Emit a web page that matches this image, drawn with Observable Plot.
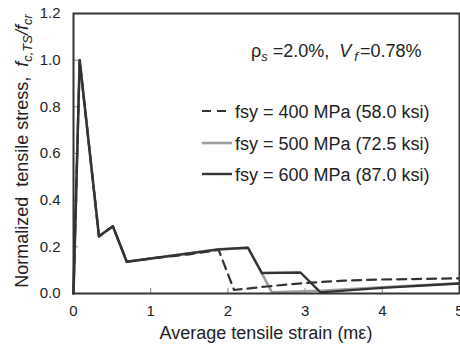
<!DOCTYPE html>
<html><head><meta charset="utf-8">
<script src="https://cdn.jsdelivr.net/npm/d3@7"></script>
<script src="https://cdn.jsdelivr.net/npm/@observablehq/plot@0.6"></script>
<style>body{margin:0;background:#fff}</style>
</head><body><div id="chart"></div>
<script>
const xTicks = [0, 1, 2, 3, 4, 5];
const yTicks = [0, 0.2, 0.4, 0.6, 0.8, 1.0, 1.2];

const strain400 = [0, 0.08, 0.33, 0.51, 0.69, 1.0, 1.5, 1.88, 2.08, 2.5, 3.0, 3.5, 4.0, 5.0];
const stress400 = [0, 1.0, 0.245, 0.288, 0.136, 0.15, 0.168, 0.187, 0.015, 0.03, 0.045, 0.055, 0.06, 0.065];

const strain500 = [0, 0.08, 0.33, 0.51, 0.69, 1.88, 2.26, 2.44, 2.57, 3.2, 4.0, 5.0];
const stress500 = [0, 1.0, 0.245, 0.288, 0.136, 0.189, 0.196, 0.086, 0.005, 0.012, 0.027, 0.044];

const strain600 = [0, 0.08, 0.33, 0.51, 0.69, 1.88, 2.26, 2.44, 2.94, 3.2, 4.0, 5.0];
const stress600 = [0, 1.0, 0.245, 0.288, 0.136, 0.189, 0.196, 0.088, 0.09, 0.005, 0.024, 0.043];

const legendLabels = ["fsy = 400 MPa (58.0 ksi)", "fsy = 500 MPa (72.5 ksi)", "fsy = 600 MPa (87.0 ksi)"];

const toRows = (xs, ys) => xs.map((x, i) => ({x, y: ys[i]}));
const d400 = toRows(strain400, stress400);
const d500 = toRows(strain500, stress500);
const d600 = toRows(strain600, stress600);

const font = "Liberation Sans, Arial, sans-serif";
const ink = "#222";

const svg = Plot.plot({
  width: 460, height: 345,
  marginLeft: 73, marginRight: 1, marginTop: 13, marginBottom: 52,
  style: {fontFamily: font, fontSize: "15px", color: ink, background: "#fff", overflow: "visible"},
  x: {domain: [0, 5]},
  y: {domain: [0, 1.2]},
  marks: [
    Plot.axisX({ticks: xTicks, tickSize: 0, tickPadding: 12, fontSize: 15, label: null, tickFormat: d => d3.format("d")(d)}),
    Plot.axisY({ticks: yTicks, tickSize: 0, tickPadding: 13, fontSize: 15, label: null, tickFormat: d => d.toFixed(1)}),
    Plot.axisX({ticks: xTicks, tickSize: -5, tickFormat: () => "", label: null, stroke: "#888"}),
    Plot.axisY({ticks: yTicks, tickSize: -5, tickFormat: () => "", label: null, stroke: "#888"}),
    Plot.line(d500, {x: "x", y: "y", stroke: "#9e9e9e", strokeWidth: 2.6}),
    Plot.line(d400, {x: "x", y: "y", stroke: "#333", strokeWidth: 2.2, strokeDasharray: "9,6"}),
    Plot.line(d600, {x: "x", y: "y", stroke: "#333", strokeWidth: 2.4}),
    Plot.frame({stroke: "#333", strokeWidth: 2})
  ]
});
document.getElementById("chart").appendChild(svg);

const s = d3.select(svg);
const addText = (x, y) => s.append("text").attr("x", x).attr("y", y)
  .attr("text-anchor", "start")
  .attr("font-family", font).attr("font-size", 18).attr("fill", ink);

// Y label
const yl = s.append("text")
  .attr("transform", "translate(28,151) rotate(-90)")
  .attr("text-anchor", "middle")
  .attr("font-family", font).attr("font-size", 18).attr("fill", ink);
yl.append("tspan").attr("xml:space", "preserve").text("Normalized  tensile stress,  ");
yl.append("tspan").attr("font-style", "italic").text("f");
yl.append("tspan").attr("font-style", "italic").attr("font-size", 13).attr("dy", 4).text("c,TS");
yl.append("tspan").attr("font-style", "italic").attr("dy", -4).text("/f");
yl.append("tspan").attr("font-style", "italic").attr("font-size", 13).attr("dy", 4).text("cr");

// X label
s.append("text").attr("x", 266).attr("y", 339).attr("text-anchor", "middle")
  .attr("font-family", font).attr("font-size", 18).attr("fill", ink)
  .text("Average tensile strain (mε)");

// Annotation
const an = addText(251, 57);
an.append("tspan").text("ρ");
an.append("tspan").attr("font-size", 13).attr("dy", 4).attr("font-style", "italic").text("s");
an.append("tspan").attr("dy", -4).attr("xml:space", "preserve").text(" =2.0%,  ");
an.append("tspan").attr("font-style", "italic").text("V");
an.append("tspan").attr("font-size", 13).attr("dy", 4).attr("dx", 3).attr("font-style", "italic").text("f");
an.append("tspan").attr("dy", -4).attr("dx", 2).text("=0.78%");

// Legend
const legStyles = [
  {stroke: "#333", width: 2.2, dash: "9,6"},
  {stroke: "#9e9e9e", width: 2.6, dash: null},
  {stroke: "#333", width: 2.4, dash: null}
];
const legY = [111, 143, 174];
legendLabels.forEach((lab, i) => {
  const st = legStyles[i];
  const ln = s.append("line").attr("x1", 202).attr("x2", 232).attr("y1", legY[i]).attr("y2", legY[i])
    .attr("stroke", st.stroke).attr("stroke-width", st.width);
  if (st.dash) ln.attr("stroke-dasharray", st.dash);
  addText(235, legY[i] + 6.5).text(lab);
});
</script>
</body></html>
